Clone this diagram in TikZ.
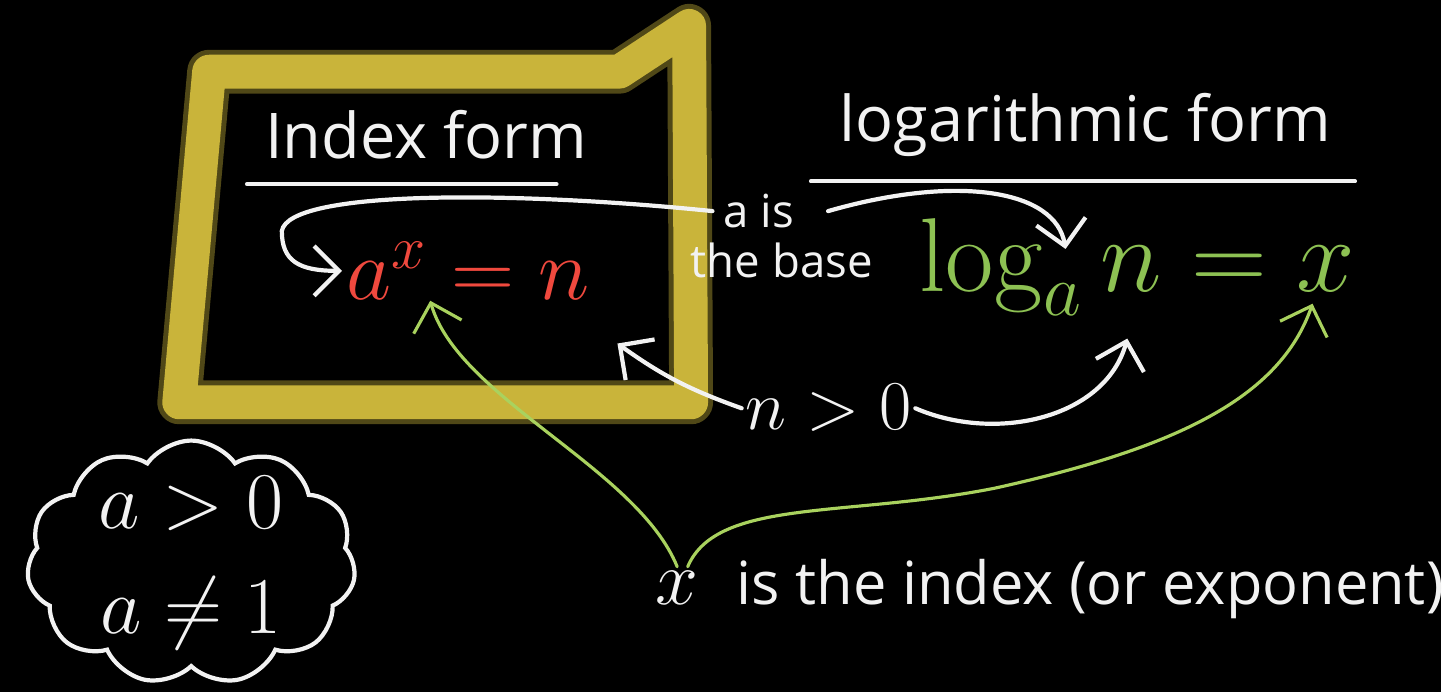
\RequirePackage{fix-cm}
\documentclass[tikz,border=0pt]{standalone}
\usepackage[no-math]{fontspec}
\setmainfont{Open Sans}
\usetikzlibrary{arrows.meta, positioning, shapes.symbols}
\definecolor{board}{HTML}{000000}
\definecolor{chalk}{HTML}{F2F2F2}
\definecolor{chalkred}{HTML}{F0493E}
\definecolor{chalkgreen}{HTML}{8DC153}
\definecolor{chalklime}{HTML}{A9D25E}
\definecolor{frameyellow}{HTML}{C9B43A}

\begin{document}
\begin{tikzpicture}[
    x=0.01cm, y=-0.01cm,
    txt/.style={text=chalk, inner sep=1pt},
    title/.style={txt, font=\fontsize{18}{20}\selectfont},
    small/.style={txt, font=\fontsize{13}{15}\selectfont},
    eqn/.style={inner sep=1pt, font=\fontsize{25}{30}\selectfont},
    uline/.style={draw=chalk, line width=1.1pt, line cap=round},
    frame/.style={draw=frameyellow, line join=round},
    arr/.style={-{Straight Barb[length=2.5mm, width=5mm]}, draw=chalk, line width=1.2pt, line cap=round},
    garr/.style={arr, draw=chalklime, line width=0.9pt},
]
    \fill[board] (0,0) rectangle (1447,695);

    % yellow frame round the index form
    \draw[frame, opacity=0.4, line width=0.44cm] (210,72) -- (622,72) -- (692,26) -- (694,404) -- (180,404) -- cycle;
    \draw[frame, line width=0.34cm] (210,72) -- (622,72) -- (692,26) -- (694,404) -- (180,404) -- cycle;

    % headings
    \node[title] (idxtitle) at (428,135) {Index form};
    \node[title] (logtitle) at (1090,125) {logarithmic form};
    \draw[uline] ([xshift=-4pt,yshift=-6pt]idxtitle.south west) -- ([xshift=-0.35cm,yshift=-6pt]idxtitle.south east);
    \draw[uline] ([xshift=-0.25cm,yshift=-6pt]logtitle.south west) -- ([xshift=0.2cm,yshift=-6pt]logtitle.south east);

    % the two forms
    \node[eqn, text=chalkred] (idxeq) at (470,272) {$a^{x}=n$};
    \node[eqn, text=chalkgreen, font=\fontsize{30}{34}\selectfont] (logeq) at (1142,268) {$\log_{a}n = x$};

    % labels
    \node[small] (ais) at (762,212) {a is};
    \node[small] (thebase) at (785,262) {the base};
    \node[txt, font=\fontsize{20}{24}\selectfont] (npos) at (832,410) {$n>0$};
    \node[txt, font=\fontsize{22}{24}\selectfont] (xvar) at (680,590) {$x$};
    \node[txt, font=\fontsize{17}{20}\selectfont, anchor=base west] (xdesc) at ([xshift=0.3cm]xvar.base east) {is the index (or exponent)};

    % conditions on the base
    \node[draw=chalk, line width=1.2pt, cloud, cloud puffs=11, cloud puff arc=110, aspect=1.35, minimum width=3.3cm, minimum height=2.45cm] (cond) at (192,565) {};
    \node[txt, font=\fontsize{23}{30}\selectfont, align=center] (condtxt) at (cond.center) {$a>0$\\$a\neq 1$};

    % arrow targets
    \coordinate (supx) at (432,302);
    \coordinate (suba) at (1070,250);
    \coordinate (idxn) at (620,345);
    \coordinate (logn) at (1132,340);
    \coordinate (logx) at (1318,305);

    \draw[arr] ([xshift=-2pt]ais.west) .. controls (520,192) and (290,190) .. (283,232) .. controls (283,262) and (300,272) .. (idxeq.west);
    \draw[arr] ([xshift=0.3cm]ais.east) .. controls (960,175) and (1060,190) .. (suba);
    \draw[arr] (npos.west) to[bend left=8] (idxn);
    \draw[arr] (npos.east) .. controls (1000,445) and (1110,420) .. (logn);
    \draw[garr] (xvar.north) .. controls (640,470) and (460,400) .. (supx);
    \draw[garr] ([xshift=3pt]xvar.north) .. controls (720,500) and (850,520) .. (1000,490) .. controls (1180,450) and (1285,400) .. (logx);
\end{tikzpicture}
\end{document}
